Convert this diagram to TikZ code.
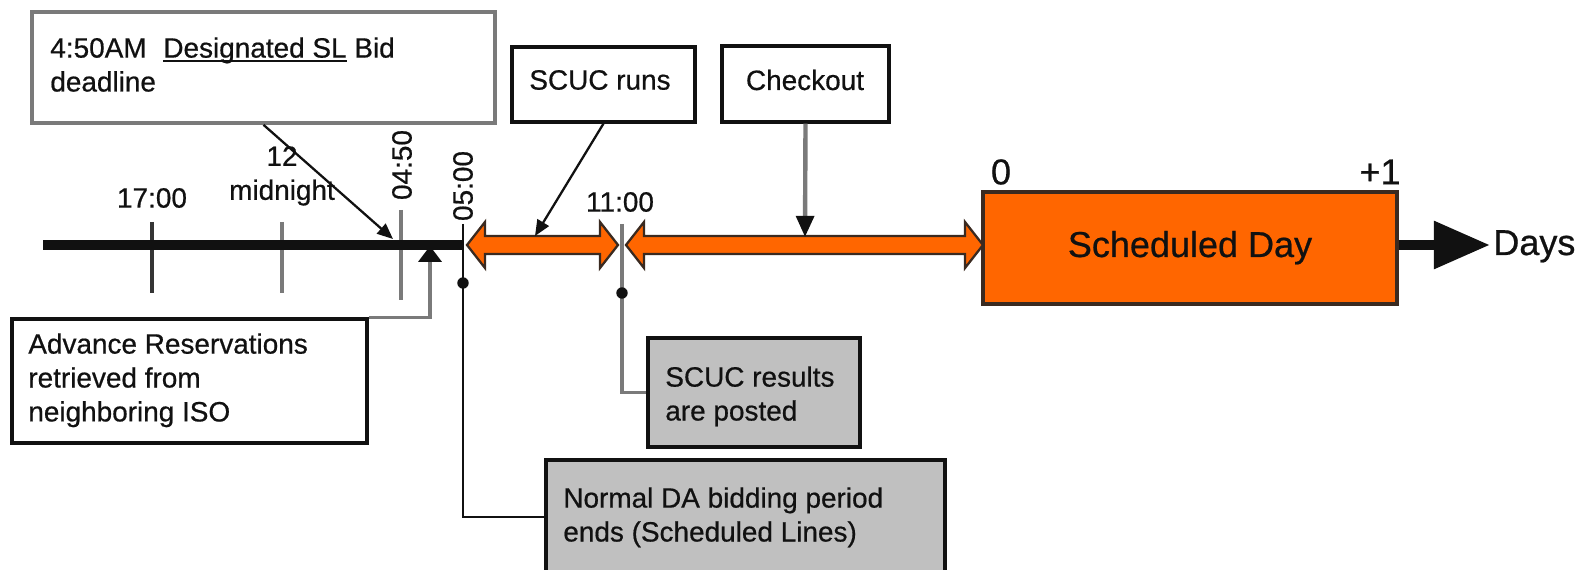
\documentclass[tikz,border=0pt]{standalone}
\usepackage{fontspec}
\setmainfont{Liberation Sans}[FakeBold=0.6]
\usetikzlibrary{arrows.meta,calc,fit}
\definecolor{dorange}{HTML}{FF6600}
\definecolor{boxgray}{HTML}{C0C0C0}
\definecolor{edge}{HTML}{3A2A20}
\definecolor{ink}{HTML}{111111}
\definecolor{midgray}{HTML}{7A7A7A}
\newcommand\myperiod[2]{%
  \draw[period] (#1) -- ($(#1)+(18,-23)$) -- ($(#1)+(18,-9)$) -- ($(#2)+(-18,-9)$)
    -- ($(#2)+(-18,-23)$) -- (#2) -- ($(#2)+(-18,23)$) -- ($(#2)+(-18,9)$)
    -- ($(#1)+(18,9)$) -- ($(#1)+(18,23)$) -- cycle;}
\newcommand\myul[1]{{\setbox0\hbox{#1}\rlap{\rule[-2.6pt]{\wd0}{1.3pt}}\box0}}
\begin{document}
\begin{tikzpicture}[x=0.02cm,y=-0.02cm,
  lbl/.style={font=\fontsize{15.9}{19.3}\selectfont, text=ink, inner sep=0pt},
  biglbl/.style={font=\fontsize{20.5}{24}\selectfont, text=ink, inner sep=0pt},
  gbox/.style={draw=midgray, line width=2.1pt, fill=white, inner sep=0pt},
  wbox/.style={draw=ink, line width=1.8pt, fill=white, inner sep=0pt},
  sbox/.style={draw=ink, line width=1.8pt, fill=boxgray, inner sep=0pt},
  tickline/.style={draw=midgray, line width=2.1pt},
  thinconn/.style={draw=ink, line width=1.3pt, -{Triangle[length=9pt,width=7.5pt]}},
  grayconn/.style={draw=midgray, line width=2.1pt},
  period/.style={fill=dorange, draw=edge, line width=1.3pt, line join=miter},
  dotmark/.style={circle, fill=ink, inner sep=0pt, minimum size=6.5pt},
]
\useasboundingbox (0,0) rectangle (1585,570);

% ticks
\draw[tickline, draw=ink!85] (152,222) -- (152,293);
\draw[tickline] (282,222) -- (282,293);
\draw[tickline] (401,210) -- (401,300);

% time line
\coordinate (tl0) at (43,245);
\coordinate (t0500) at (463,245);
\draw[line width=5.9pt, ink] (tl0) -- (t0500);

% boxes
\node[gbox, fit={(32,12) (495,123)}] (dl) {};
\node[lbl, anchor=north west, align=left] (dlt) at (50,37)
  {4:50AM\hspace{0.6em}\myul{Designated SL} Bid\\deadline};
\node[wbox, fit={(12,319) (367,443)}] (adv) {};
\node[lbl, anchor=north west, align=left] (advt) at (28,333)
  {Advance Reservations\\retrieved from\\neighboring ISO};
\node[wbox, fit={(512,47) (695,122)}] (scuc) {};
\node[lbl] (scuct) at (600,80) {SCUC runs};
\node[wbox, fit={(722,46) (889,122)}] (chk) {};
\node[lbl] (chkt) at (805,80) {Checkout};
\node[sbox, fit={(648,338) (860,447)}] (res) {};
\node[lbl, anchor=north west, align=left] (rest) at (665,366) {SCUC results\\are posted};
\node[sbox, fit={(546,460) (945,574)}] (da) {};
\node[lbl, anchor=north west, align=left] (dat) at (563,487)
  {Normal DA bidding period\\ends (Scheduled Lines)};
\node[draw=edge, fill=dorange, line width=1.8pt, inner sep=0pt, fit={(983,192) (1397,304)}] (sd) {};
\node[biglbl, anchor=base] (sdt) at (1190,257) {Scheduled Day};

% 05:00 and 11:00 lines
\coordinate (c0500) at (463,224);
\draw[draw=ink, line width=1.6pt] (c0500) |- (da.west);
\node[dotmark] (d0500) at (463,283) {};
\coordinate (c1100) at (622,224);
\draw[grayconn] (c1100) |- (res.west);
\node[dotmark] (d1100) at (622,293) {};

% orange periods
\coordinate (p1a) at (467,245);
\coordinate (p1b) at (618,245);
\coordinate (p2a) at (626,245);
\coordinate (p2b) at (983,245);
\myperiod{p1a}{p1b}
\myperiod{p2a}{p2b}

% connectors
\coordinate (dlend) at (393,239);
\draw[thinconn] (dl.south) -- (dlend);
\coordinate (scucend) at (535,236);
\draw[thinconn] (scuc.south) -- (scucend);
\coordinate (chkend) at (805,237);
\draw[draw=midgray, line width=2.5pt, -{Triangle[length=12pt,width=10pt,color=ink]}] (chk.south) -- (chkend);
\coordinate (advend) at (430,246);
\draw[grayconn, -{Triangle[length=9pt,width=13pt,color=ink]}] (adv.north east) -| (advend);

% days arrow
\coordinate (dtip) at (1490,245);
\draw[line width=5.9pt, ink, -{Triangle[length=32pt,width=26pt]}] (sd.east |- dtip) -- (dtip);
\node[biglbl, anchor=base west] (days) at (1493,255) {Days};

% labels
\node[lbl] (l1700) at (152,198) {17:00};
\node[lbl, align=center] (lmid) at (282,176) {12\\midnight};
\node[lbl, rotate=90] (l0450) at (402,165) {04:50};
\node[lbl, rotate=90] (l0500) at (463,186) {05:00};
\node[lbl] (l1100) at (620,202) {11:00};
\node[biglbl] (l0) at (1001,172) {0};
\node[biglbl] (lp1) at (1380,172) {+1};
\end{tikzpicture}
\end{document}
